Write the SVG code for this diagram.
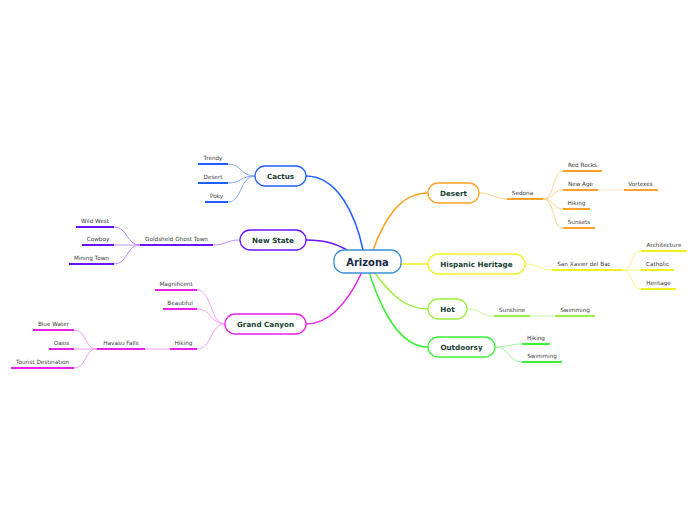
<svg xmlns="http://www.w3.org/2000/svg" width="696" height="520" viewBox="0 0 696 520">
<style>
.bg{fill:#ffffff}
.box{fill:#ffffff;stroke-width:1.3}
.main{font-family:"DejaVu Sans",Verdana,sans-serif;font-weight:bold;font-size:7.2px;fill:#163f33;text-anchor:middle}
.root{font-family:"DejaVu Sans",Verdana,sans-serif;font-weight:bold;font-size:10px;fill:#1a2848;text-anchor:middle}
.sub{font-family:"DejaVu Sans",Verdana,sans-serif;font-size:5.7px;fill:#3a3a3a;text-anchor:middle}
.ul{stroke-width:2;fill:none}
.c{fill:none;stroke-width:1}
.m{fill:none;stroke-width:1.5}
.blue{stroke:#1f5fff}.lblue{stroke:#86a9ff}
.pur{stroke:#6a12ff}.lpur{stroke:#b792ff}
.mag{stroke:#ec1eec}.lmag{stroke:#f5a0f5}
.org{stroke:#ffa126}.lorg{stroke:#ffd28f}.porg{stroke:#fbe4c4}
.yel{stroke:#f0f01c}.lyel{stroke:#f5f57e}
.lim{stroke:#9cef3c}.llim{stroke:#cdf5a2}
.grn{stroke:#3ef03a}.lgrn{stroke:#9ef59b}
</style>
<rect class="bg" x="0" y="0" width="696" height="520"/>
<g id="connectors">
  <!-- main -->
  <path class="m blue" d="M363,250 C356,216 338,176 306,176"/>
  <path class="m pur" d="M347,250 C336,244 326,240 306,240"/>
  <path class="m mag" d="M362,272 C348,302 330,324 306,324"/>
  <path class="m org" d="M373,250 C386,215 402,193 428,193"/>
  <path class="m yel" d="M401,264 L428,264"/>
  <path class="m lim" d="M374,272 C392,296 406,309 428,309"/>
  <path class="m grn" d="M369,272 C382,312 400,347 428,347"/>
  <!-- Cactus -->
  <path class="c lblue" d="M255,176 C240,176 242,164 228,164"/>
  <path class="c lblue" d="M255,176 C240,176 242,183 228,183"/>
  <path class="c lblue" d="M255,176 C240,176 242,202 228,202"/>
  <!-- New State -->
  <path class="c lpur" d="M240,240 C226,240 227,245 213,245"/>
  <path class="c lpur" d="M140,245 C126,245 128,227 114,227"/>
  <path class="c lpur" d="M140,245 L114,245"/>
  <path class="c lpur" d="M140,245 C126,245 128,264 114,264"/>
  <!-- Grand Canyon -->
  <path class="c lmag" d="M225,324 C210,324 212,290 197,290"/>
  <path class="c lmag" d="M225,324 C210,324 212,309 197,309"/>
  <path class="c lmag" d="M225,324 C210,324 212,349 197,349"/>
  <path class="c lmag" d="M170,349 L145,349"/>
  <path class="c lmag" d="M97,349 C84,349 87,330 74,330"/>
  <path class="c lmag" d="M97,349 L74,349"/>
  <path class="c lmag" d="M97,349 C84,349 87,368 74,368"/>
  <!-- Desert -->
  <path class="c lorg" d="M479,193 C494,193 493,199 507,199"/>
  <path class="c lorg" d="M543,199 C555,199 552,171 563,171"/>
  <path class="c lorg" d="M543,199 C555,199 552,190 563,190"/>
  <path class="c lorg" d="M543,199 C555,199 552,209 563,209"/>
  <path class="c lorg" d="M543,199 C555,199 552,228 563,228"/>
  <path class="c porg" d="M598,190 L624,190"/>
  <!-- Hispanic Heritage -->
  <path class="c lyel" d="M525,264 C540,264 538,270 552,270"/>
  <path class="c lyel" d="M622,270 C634,270 630,251 641,251"/>
  <path class="c lyel" d="M622,270 L641,270"/>
  <path class="c lyel" d="M622,270 C634,270 630,289 641,289"/>
  <!-- Hot -->
  <path class="c llim" d="M467,309 C482,309 480,316 494,316"/>
  <path class="c llim" d="M530,316 L555,316"/>
  <!-- Outdoorsy -->
  <path class="c lgrn" d="M495,347 C510,347 508,344 522,344"/>
  <path class="c lgrn" d="M495,347 C510,347 508,362 522,362"/>
</g>
<g id="arizona">
  <rect class="box" x="334" y="250" width="67" height="23" rx="10" stroke="#3b8fd4"/>
  <text class="root" x="367.5" y="265.5">Arizona</text>
</g>
<g id="cactus">
  <rect class="box blue" x="255" y="166" width="51" height="20" rx="10"/>
  <text class="main" x="280.5" y="178.6">Cactus</text>
</g>
<g id="cactus-trendy"><line class="ul blue" x1="198" y1="164" x2="228" y2="164"/><text class="sub" x="213" y="159.5">Trendy</text></g>
<g id="cactus-desert"><line class="ul blue" x1="198" y1="183" x2="228" y2="183"/><text class="sub" x="213" y="178.5">Desert</text></g>
<g id="cactus-poky"><line class="ul blue" x1="205" y1="202" x2="228" y2="202"/><text class="sub" x="216.5" y="197.5">Poky</text></g>
<g id="newstate">
  <rect class="box pur" x="240" y="230" width="66" height="20" rx="10"/>
  <text class="main" x="273" y="242.6">New State</text>
</g>
<g id="goldsfield"><line class="ul pur" x1="140" y1="245" x2="213" y2="245"/><text class="sub" x="176.5" y="240.5">Goldsfield Ghost Town</text></g>
<g id="wildwest"><line class="ul pur" x1="76" y1="227" x2="114" y2="227"/><text class="sub" x="95" y="222.5">Wild West</text></g>
<g id="cowboy"><line class="ul pur" x1="82" y1="245" x2="114" y2="245"/><text class="sub" x="98" y="240.5">Cowboy</text></g>
<g id="miningtown"><line class="ul pur" x1="69" y1="264" x2="114" y2="264"/><text class="sub" x="91.5" y="259.5">Mining Town</text></g>
<g id="grandcanyon">
  <rect class="box mag" x="225" y="314" width="81" height="20" rx="10"/>
  <text class="main" x="265.5" y="326.6">Grand Canyon</text>
</g>
<g id="magnificent"><line class="ul mag" x1="155" y1="290" x2="197" y2="290"/><text class="sub" x="176" y="285.5">Magnificent</text></g>
<g id="beautiful"><line class="ul mag" x1="163" y1="309" x2="197" y2="309"/><text class="sub" x="180" y="304.5">Beautiful</text></g>
<g id="gc-hiking"><line class="ul mag" x1="170" y1="349" x2="197" y2="349"/><text class="sub" x="183.5" y="344.5">Hiking</text></g>
<g id="havasu"><line class="ul mag" x1="97" y1="349" x2="145" y2="349"/><text class="sub" x="121" y="344.5">Havasu Falls</text></g>
<g id="bluewater"><line class="ul mag" x1="33" y1="330" x2="74" y2="330"/><text class="sub" x="53.5" y="325.5">Blue Water</text></g>
<g id="oasis"><line class="ul mag" x1="49" y1="349" x2="74" y2="349"/><text class="sub" x="61.5" y="344.5">Oasis</text></g>
<g id="tourist"><line class="ul mag" x1="11" y1="368" x2="74" y2="368"/><text class="sub" x="42.5" y="363.5">Tourist Destination</text></g>
<g id="desert">
  <rect class="box org" x="428" y="183" width="51" height="20" rx="10"/>
  <text class="main" x="453.5" y="195.6">Desert</text>
</g>
<g id="sedona"><line class="ul org" x1="507" y1="199" x2="543" y2="199"/><text class="sub" x="522.5" y="194.5">Sedona</text></g>
<g id="redrocks"><line class="ul org" x1="563" y1="171" x2="602" y2="171"/><text class="sub" x="582.5" y="166.5">Red Rocks</text></g>
<g id="newage"><line class="ul org" x1="563" y1="190" x2="598" y2="190"/><text class="sub" x="580.5" y="185.5">New Age</text></g>
<g id="vortexes"><line class="ul org" x1="624" y1="190" x2="658" y2="190"/><text class="sub" x="640.5" y="185.5">Vortexes</text></g>
<g id="d-hiking"><line class="ul org" x1="563" y1="209" x2="590" y2="209"/><text class="sub" x="576.5" y="204.5">Hiking</text></g>
<g id="sunsets"><line class="ul org" x1="563" y1="228" x2="595" y2="228"/><text class="sub" x="579" y="223.5">Sunsets</text></g>
<g id="hispanic">
  <rect class="box yel" x="428" y="254" width="97" height="20" rx="10"/>
  <text class="main" x="476.5" y="266.6">Hispanic Heritage</text>
</g>
<g id="sanxavier"><line class="ul yel" x1="552" y1="270" x2="622" y2="270"/><text class="sub" x="584" y="265.5">San Xavier del Bac</text></g>
<g id="architecture"><line class="ul yel" x1="641" y1="251" x2="687" y2="251"/><text class="sub" x="664" y="246.5">Architecture</text></g>
<g id="catholic"><line class="ul yel" x1="641" y1="270" x2="674" y2="270"/><text class="sub" x="657.5" y="265.5">Catholic</text></g>
<g id="heritage"><line class="ul yel" x1="641" y1="289" x2="676" y2="289"/><text class="sub" x="658.5" y="284.5">Heritage</text></g>
<g id="hot">
  <rect class="box lim" x="428" y="299" width="39" height="20" rx="10"/>
  <text class="main" x="447.5" y="311.6">Hot</text>
</g>
<g id="sunshine"><line class="ul lim" x1="494" y1="316" x2="530" y2="316"/><text class="sub" x="512" y="311.5">Sunshine</text></g>
<g id="h-swimming"><line class="ul lim" x1="555" y1="316" x2="595" y2="316"/><text class="sub" x="575" y="311.5">Swimming</text></g>
<g id="outdoorsy">
  <rect class="box grn" x="428" y="337" width="67" height="20" rx="10"/>
  <text class="main" x="461.5" y="349.6">Outdoorsy</text>
</g>
<g id="o-hiking"><line class="ul grn" x1="522" y1="344" x2="550" y2="344"/><text class="sub" x="536" y="339.5">Hiking</text></g>
<g id="o-swimming"><line class="ul grn" x1="522" y1="362" x2="562" y2="362"/><text class="sub" x="542" y="357.5">Swimming</text></g>
</svg>
